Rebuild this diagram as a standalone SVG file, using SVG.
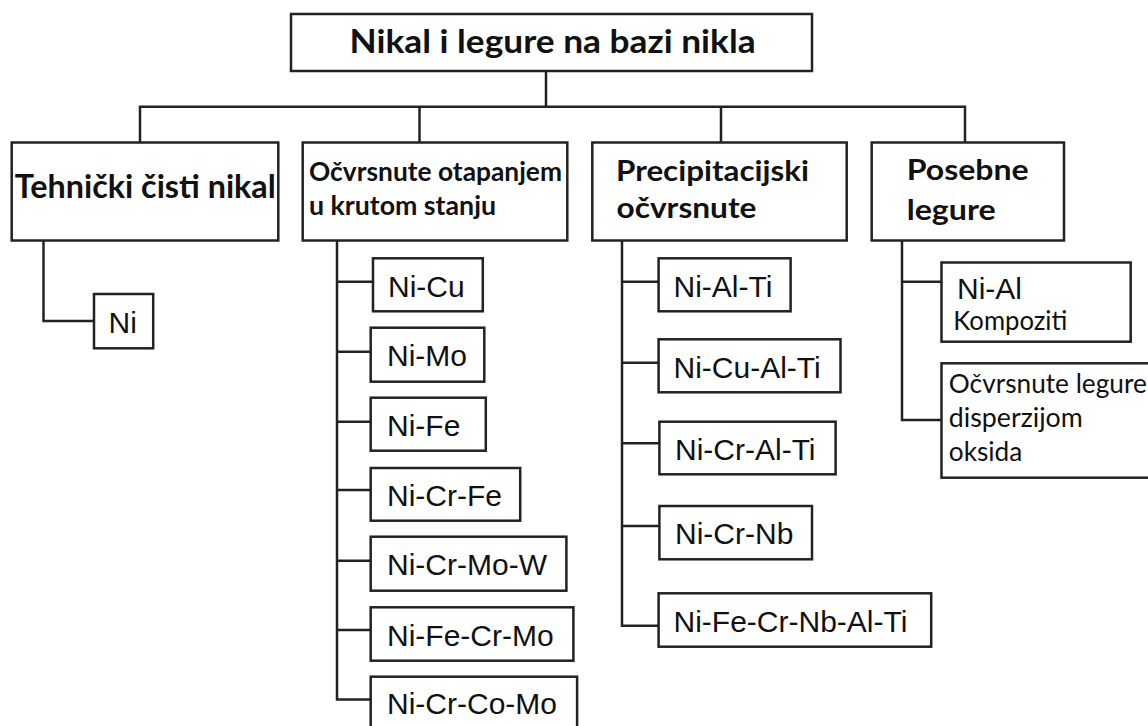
<svg xmlns="http://www.w3.org/2000/svg" width="1148" height="726" viewBox="0 0 1148 726">
<style>
.box{fill:#fff;stroke:#222;stroke-width:2.5}
.ln{fill:none;stroke:#222;stroke-width:2.5}
.h{font-family:Lato,"Open Sans","Liberation Sans",sans-serif;font-weight:bold;fill:#111}
.c{font-family:Lato,"Open Sans","Liberation Sans",sans-serif;fill:#111;font-size:26.5px}
.a{font-family:"Liberation Sans",Arial,sans-serif;fill:#111;font-size:30px}
</style>
<rect width="1148" height="726" fill="#fff"/>
<g id="connectors" class="ln">
<path d="M546 71V106.7M140 142.5V106.7H965V142.5M419.5 106.7V142.5M721 106.7V142.5"/>
<path d="M43.5 240.5V321H94"/>
<path d="M337 240.5V699.5H370.7M337 281.7H373M337 351.7H370.7M337 421.7H370.7M337 490H370.7M337 560.7H370.7M337 630H370.7"/>
<path d="M622 240.5V625.7H658.6M622 281.7H658.6M622 362.7H658.6M622 443.3H659.4M622 526H659.4"/>
<path d="M902 240.5V420H941.3M902 281.7H941.3"/>
</g>
<g id="root"><rect class="box" x="291" y="14" width="521" height="57"/><text class="h" x="349.6" y="53" font-size="33" textLength="406" lengthAdjust="spacingAndGlyphs">Nikal i legure na bazi nikla</text></g>
<g id="tehnicki"><rect class="box" x="11.7" y="142.5" width="266.6" height="98"/><text class="h" x="14.8" y="198" font-size="32" textLength="261" lengthAdjust="spacingAndGlyphs">Tehnički čisti nikal</text></g>
<g id="otapanjem"><rect class="box" x="302.7" y="142.5" width="264.6" height="98"/><text class="h" font-size="26"><tspan x="309" y="180.7" textLength="253" lengthAdjust="spacingAndGlyphs">Očvrsnute otapanjem</tspan><tspan x="309" y="215" textLength="187" lengthAdjust="spacingAndGlyphs">u krutom stanju</tspan></text></g>
<g id="precipitacijski"><rect class="box" x="592.3" y="142.5" width="254.4" height="98"/><text class="h" font-size="29"><tspan x="616" y="180.7" textLength="193" lengthAdjust="spacingAndGlyphs">Precipitacijski</tspan><tspan x="616.5" y="218.3" textLength="140" lengthAdjust="spacingAndGlyphs">očvrsnute</tspan></text></g>
<g id="posebne"><rect class="box" x="871.7" y="142.5" width="192.3" height="98"/><text class="h" font-size="29"><tspan x="906.7" y="180" textLength="122" lengthAdjust="spacingAndGlyphs">Posebne</tspan><tspan x="906.7" y="220" textLength="89" lengthAdjust="spacingAndGlyphs">legure</tspan></text></g>
<g id="ni"><rect class="box" x="94" y="294" width="59.2" height="54.3"/><text class="a" x="108.5" y="332.5">Ni</text></g>
<g id="ni-cu"><rect class="box" x="373" y="258.3" width="109.8" height="53"/><text class="a" x="388" y="296.7">Ni-Cu</text></g>
<g id="ni-mo"><rect class="box" x="370.7" y="327.7" width="113.6" height="54"/><text class="a" x="387" y="366.3">Ni-Mo</text></g>
<g id="ni-fe"><rect class="box" x="370.7" y="397.7" width="115.1" height="53"/><text class="a" x="387" y="436">Ni-Fe</text></g>
<g id="ni-cr-fe"><rect class="box" x="370.7" y="468" width="149.5" height="52.7"/><text class="a" x="387" y="506.3">Ni-Cr-Fe</text></g>
<g id="ni-cr-mo-w"><rect class="box" x="370.7" y="536.7" width="195.7" height="54"/><text class="a" x="387" y="575.3">Ni-Cr-Mo-W</text></g>
<g id="ni-fe-cr-mo"><rect class="box" x="370.7" y="607.3" width="202.7" height="53.4"/><text class="a" x="387" y="645.7">Ni-Fe-Cr-Mo</text></g>
<g id="ni-cr-co-mo"><rect class="box" x="370.7" y="676.7" width="206.4" height="70"/><text class="a" x="387" y="714">Ni-Cr-Co-Mo</text></g>
<g id="ni-al-ti"><rect class="box" x="658.6" y="258.3" width="132" height="53"/><text class="a" x="673.5" y="296.7">Ni-Al-Ti</text></g>
<g id="ni-cu-al-ti"><rect class="box" x="658.6" y="339.3" width="181.9" height="53"/><text class="a" x="673.5" y="377.7">Ni-Cu-Al-Ti</text></g>
<g id="ni-cr-al-ti"><rect class="box" x="659.4" y="421.7" width="176.2" height="52.6"/><text class="a" x="675" y="460">Ni-Cr-Al-Ti</text></g>
<g id="ni-cr-nb"><rect class="box" x="659.4" y="506" width="152.6" height="53.3"/><text class="a" x="675" y="544.4">Ni-Cr-Nb</text></g>
<g id="ni-fe-cr-nb-al-ti"><rect class="box" x="658.6" y="593.3" width="272.6" height="53.4"/><text class="a" x="673.5" y="631.7">Ni-Fe-Cr-Nb-Al-Ti</text></g>
<g id="ni-al-kompoziti"><rect class="box" x="941.5" y="262.5" width="189.2" height="79.2"/><text class="a" x="957" y="299" font-size="28">Ni-Al</text><text class="c" x="953.3" y="330" textLength="114" lengthAdjust="spacingAndGlyphs">Kompoziti</text></g>
<g id="disperzijom"><rect class="box" x="941.5" y="363.3" width="210" height="114.4"/><text class="c"><tspan x="948.8" y="393.3" textLength="198" lengthAdjust="spacingAndGlyphs">Očvrsnute legure</tspan><tspan x="948.8" y="426.7" textLength="134" lengthAdjust="spacingAndGlyphs">disperzijom</tspan><tspan x="948.8" y="460.7" textLength="73.5" lengthAdjust="spacingAndGlyphs">oksida</tspan></text></g>
</svg>
